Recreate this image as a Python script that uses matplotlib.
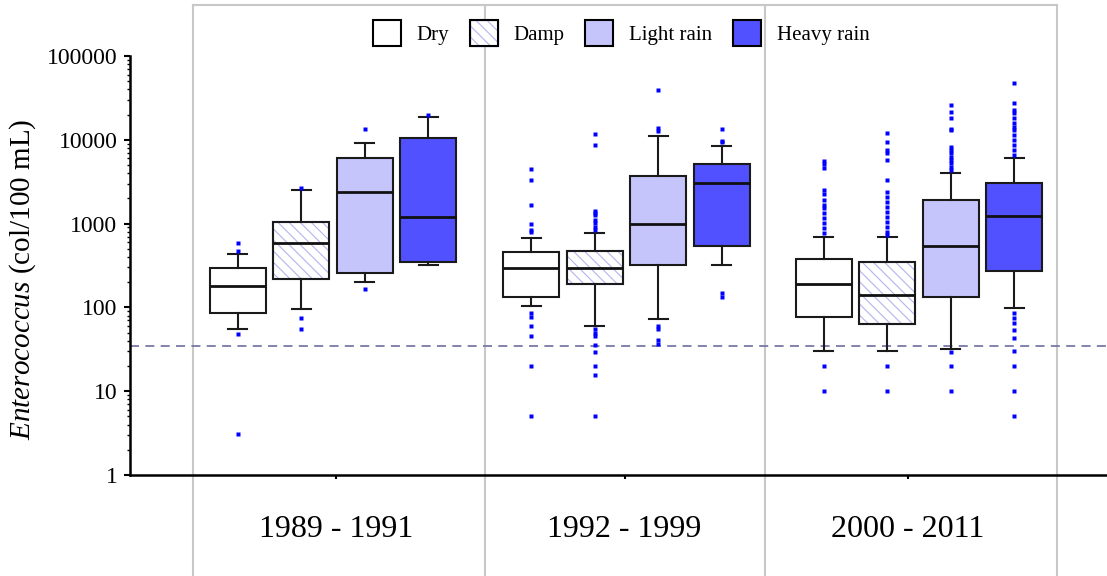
import matplotlib
matplotlib.use("Agg")
import matplotlib.pyplot as plt
from matplotlib.patches import Patch, PathPatch

plt.rcParams['font.family'] = ['Liberation Serif', 'DejaVu Serif']
plt.rcParams['mathtext.fontset'] = 'custom'
plt.rcParams['mathtext.rm'] = 'Liberation Serif'
plt.rcParams['mathtext.it'] = 'Liberation Serif:italic'
plt.rcParams['hatch.linewidth'] = 0.8

# periods and weather classes
periods = ['1989 - 1991', '1992 - 1999', '2000 - 2011']
conditions = ['Dry', 'Damp', 'Light rain', 'Heavy rain']

# box statistics, period by period, in condition order
whislo = [56, 95, 199, 321, 103, 60, 73, 321, 30.5, 30.5, 32, 99]
q1 = [86.5, 216, 259, 351, 134, 189, 321, 540, 77, 63, 134, 272]
med = [181, 592, 2383, 1199, 295, 295, 997, 3077, 190, 141, 540, 1242]
q3 = [295, 1036, 6010, 10500, 458, 475, 3700, 5190, 378, 351, 1913, 3077]
whishi = [437, 2497, 9160, 18550, 673, 772, 11000, 8440, 698, 698, 4017, 6010]
fliers = [
    [582, 467, 48, 3.1],
    [2684, 74, 55],
    [13340, 164],
    [19770],
    [4447, 3314, 1667, 997, 850, 790, 85, 77, 60, 46, 20, 5],
    [11720, 8600, 1400, 1350, 1250, 1104, 1007, 900, 850, 55, 49, 45, 35.6, 29.6, 20, 15.5, 5],
    [39600, 13800, 12800, 60.5, 55.7, 40.8, 36.6],
    [13340, 9680, 9300, 147, 132],
    [5630, 5140, 4570, 2518, 2256, 1913, 1667, 1521, 1327, 1157, 1007, 879, 766, 20, 10],
    [11950, 9500, 7550, 6900, 5740, 3314, 2404, 2094, 1828, 1592, 1387, 1209, 1054, 918, 800, 731, 20, 10],
    [26000, 21650, 18000, 13500, 13000, 8280, 7550, 7000, 6290, 5740, 5240, 4780, 4360, 29.6, 20, 10],
    [47200, 27300, 22700, 20700, 18000, 15700, 14350, 13100, 11400, 9950, 8670, 7550, 6590,
     85, 74, 64.6, 53.8, 42.8, 30.5, 20, 10, 5],
]
standard = 35

face_colors = ['white', 'white', '#c5c5fb', '#5151ff']
hatch_color = '#b4b4ee'

group_start = [0, 4.62, 9.23]
positions = [g + i for g in group_start for i in range(4)]
period_x = [1.54, 6.09, 10.55]
frame_x = [-0.71, 3.89, 8.30, 12.90]

stats = []
for i in range(len(med)):
    stats.append(dict(whislo=whislo[i], q1=q1[i], med=med[i], q3=q3[i],
                      whishi=whishi[i], fliers=fliers[i]))

fig = plt.figure(figsize=(11.07, 5.76), dpi=100)
ax = fig.add_axes([130 / 1107, 101 / 576, 977 / 1107, 419 / 576])

ax.set_yscale('log')
ax.set_ylim(1, 100000)
ax.set_xlim(-1.70, 13.69)

bp = ax.bxp(stats, positions=positions, widths=0.88, capwidths=0.3,
            patch_artist=True,
            boxprops=dict(linewidth=1.5, edgecolor='#1a1a1a'),
            medianprops=dict(color='#111111', linewidth=2),
            whiskerprops=dict(color='#1a1a1a', linewidth=1.5),
            capprops=dict(color='#1a1a1a', linewidth=1.5),
            flierprops=dict(marker='s', markerfacecolor='#0000ff',
                            markeredgecolor='none', markersize=3, zorder=5))

for i, box in enumerate(bp['boxes']):
    k = i % 4
    box.set_facecolor(face_colors[k])
    if k == 1:
        box.set_edgecolor(hatch_color)
        box.set_hatch('\\' * 3)
        ax.add_patch(PathPatch(box.get_path(), fill=False, edgecolor='#1a1a1a',
                               linewidth=1.5, zorder=box.get_zorder() + 0.01))

# guideline value
ax.axhline(standard, color='#7878a8', linewidth=1.3, linestyle=(0, (5, 3.5)), zorder=1)

# grey frame around the period columns
tr = ax.get_xaxis_transform()
for fx in frame_x:
    ax.plot([fx, fx], [-0.245, 1.1217], transform=tr, color='#c8c8c8',
            linewidth=1.5, clip_on=False, zorder=0)
ax.plot([frame_x[0], frame_x[-1]], [1.1217, 1.1217], transform=tr,
        color='#c8c8c8', linewidth=1.5, clip_on=False, zorder=0)

for sp in ['top', 'right']:
    ax.spines[sp].set_visible(False)
ax.spines['left'].set_linewidth(1.8)
ax.spines['bottom'].set_linewidth(1.8)

ax.set_yticks([1, 10, 100, 1000, 10000, 100000],
              ['1', '10', '100', '1000', '10000', '100000'])
ax.tick_params(axis='y', which='major', labelsize=17, length=4, width=1.5, pad=5)
ax.tick_params(axis='y', which='minor', length=2, width=1)
ax.set_xticks(period_x, ['', '', ''])
ax.tick_params(axis='x', length=3, width=1.5)

for x, label in zip(period_x, periods):
    ax.text(x, -0.148, label, transform=tr, ha='center', va='baseline', fontsize=23)

ax.set_ylabel(r'$\mathit{Enterococcus}$ (col/100 mL)', fontsize=21)
ax.yaxis.set_label_coords(-0.094, 0.468)

handles = []
for k, name in enumerate(conditions):
    if k == 1:
        handles.append((Patch(facecolor='white', edgecolor=hatch_color, hatch='\\' * 3),
                        Patch(fill=False, edgecolor='black', linewidth=1.5)))
    else:
        handles.append(Patch(facecolor=face_colors[k], edgecolor='black', linewidth=1.5))
fig.legend(handles, conditions, loc='center', bbox_to_anchor=(0.561, 0.943),
           ncol=4, frameon=False, fontsize=15, handlelength=1.35, handleheight=1.55,
           handletextpad=0.75, columnspacing=1.0, borderpad=0)

fig.savefig('out.png', dpi=100)
